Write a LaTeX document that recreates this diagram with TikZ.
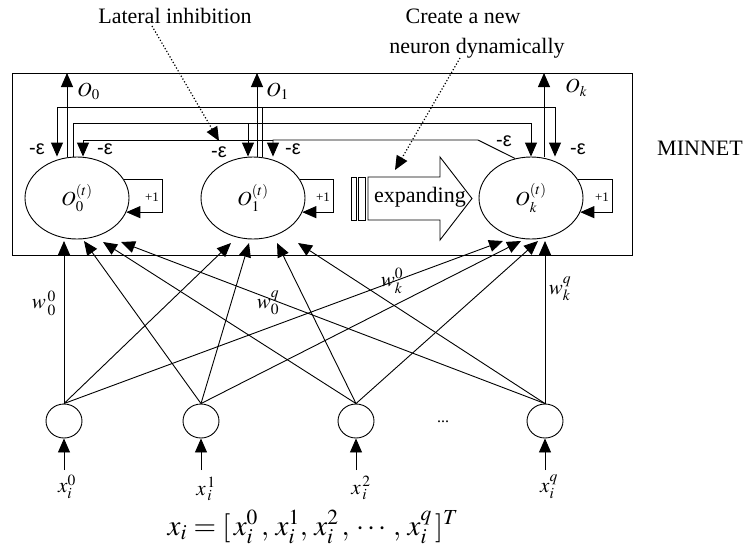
\documentclass[tikz,border=0pt]{standalone}
\usepackage{mathptmx}
\usepackage{fontspec}
\setmainfont{Liberation Serif}
\setsansfont{Liberation Sans}
\usetikzlibrary{shapes.geometric,arrows.meta}
\tikzset{
  arr/.style={-{Triangle[length=14pt,width=12pt]}},
  neuron/.style={draw, ellipse, minimum width=104pt, minimum height=82pt, inner sep=0pt, font=\fontsize{20}{22}\selectfont},
  inp/.style={draw, ellipse, minimum width=36pt, minimum height=34pt, inner sep=0pt},
  txt/.style={font=\fontsize{22}{26}\selectfont, inner sep=0pt},
  eps/.style={font=\sffamily\fontsize{20}{22}\selectfont, inner sep=0pt},
  plusone/.style={font=\fontsize{13}{15}\selectfont, inner sep=0pt},
  mlbl/.style={font=\fontsize{21}{24}\selectfont, inner sep=0pt},
  olbl/.style={font=\fontsize{20}{22}\selectfont, inner sep=0pt, anchor=west},
  pointer/.style={dotted, line width=1.2pt, -{Triangle[length=14pt,width=12pt]}},
}
\begin{document}
\begin{tikzpicture}[x=1pt,y=-1pt,line width=0.9pt]
\useasboundingbox (0,0) rectangle (746,550);
% outer box
\node[draw, minimum width=620pt, minimum height=182pt, inner sep=0pt] (box) at (322,164) {};
\node[txt] (minnet) at (700,148) {MINNET};
% neurons
\node[neuron] (E0) at (77,198) {$O_0^{(t)}$};
\node[neuron] (E1) at (253,198) {$O_1^{(t)}$};
\node[neuron] (E2) at (531,198) {$O_k^{(t)}$};
% outputs
\coordinate (oA0) at (67,73);
\coordinate (oA1) at (257,73);
\coordinate (oA2) at (544,73);
\draw[arr] (E0.north -| oA0) -- (oA0);
\draw[arr] (E1.north -| oA1) -- (oA1);
\draw[arr] (E2.north -| oA2) -- (oA2);
\node[olbl] (lo0) at (77,91) {$O_0$};
\node[olbl] (lo1) at (266,91) {$O_1$};
\node[olbl] (lo2) at (565,88) {$O_k$};
% lateral inhibition line A (from O1)
\coordinate (a0) at (57,107);
\coordinate (a1) at (262,107);
\coordinate (a2) at (555,107);
\draw[arr] (E1.north -| a1) -- (a1) -- (a0) -- (E0.north -| a0);
\draw[arr] (a1) -- (a2) -- (E2.north -| a2);
% line B (from O0)
\coordinate (b0) at (73,123);
\coordinate (b1) at (248,123);
\coordinate (b2) at (531,123);
\draw[arr] (E0.north -| b0) -- (b0) -- (b1) -- (E1.north -| b1);
\draw[arr] (b1) -- (b2) -- (E2.north -| b2);
% line C (from Ok)
\coordinate (c0) at (83,140);
\coordinate (c1) at (273,140);
\coordinate (c2) at (478,140);
\draw[arr] (E2.112) -- (c2) -- (c1) -- (E1.north -| c1);
\draw[arr] (c1) -- (c0) -- (E0.north -| c0);
% epsilon labels
\node[eps] (e0l) at (37,149) {-ε};
\node[eps] (e0r) at (105,149) {-ε};
\node[eps] (e1l) at (219,152) {-ε};
\node[eps] (e1r) at (293,149) {-ε};
\node[eps] (e2l) at (504,141) {-ε};
\node[eps] (e2r) at (578,149) {-ε};
% self loops
\coordinate (r0) at (162,0);
\coordinate (r1) at (333,0);
\coordinate (r2) at (612,0);
\draw[arr] (E0.22) -- (E0.22 -| r0) -- (E0.-16 -| r0) -- (E0.-16);
\draw[arr] (E1.22) -- (E1.22 -| r1) -- (E1.-16 -| r1) -- (E1.-16);
\draw[arr] (E2.22) -- (E2.22 -| r2) -- (E2.-16 -| r2) -- (E2.-16);
\node[plusone] (p0) at (152,197) {+1};
\node[plusone] (p1) at (323,197) {+1};
\node[plusone] (p2) at (602,197) {+1};
% expanding
\draw (351,177) rectangle (356,220);
\draw (358,177) rectangle (365,220);
\draw (368,177) -- (440,177) -- (440,157) -- (472,198.5) -- (440,240) -- (440,220) -- (368,220) -- cycle;
\node[txt] (exp) at (420,197) {expanding};
% annotations
\node[txt] (lat) at (175,16) {Lateral inhibition};
\node[txt] (cre1) at (463,16) {Create a new};
\node[txt] (cre2) at (477,48) {neuron dynamically};
\coordinate (d1s) at (152,26);
\coordinate (d1e) at (219,141);
\coordinate (d2s) at (460,58);
\coordinate (d2e) at (395,170);
\draw[pointer] (d1s) -- (d1e);
\draw[pointer] (d2s) -- (d2e);
% inputs
\node[inp] (I0) at (64,421) {};
\node[inp] (I1) at (201,421) {};
\node[inp] (I2) at (356,421) {};
\node[inp] (I3) at (545,421) {};
\node[font=\fontsize{16}{18}\selectfont, inner sep=0pt] (dots) at (443,422) {...};
% weight arrow tips
\coordinate (t00) at (64,241);
\coordinate (t01) at (84,241);
\coordinate (t02) at (103,242);
\coordinate (t03) at (121,242);
\coordinate (t10) at (231,243);
\coordinate (t11) at (249,243);
\coordinate (t12) at (277,243);
\coordinate (t13) at (298,243);
\coordinate (t20) at (503,241);
\coordinate (t21) at (521,241);
\coordinate (t22) at (538,241);
\coordinate (t23) at (545,241);
\foreach \i in {0,1,2,3}{
  \draw[arr] (I\i.north) -- (t0\i);
  \draw[arr] (I\i.north) -- (t1\i);
  \draw[arr] (I\i.north) -- (t2\i);
}
\node[mlbl] (w00) at (44,303) {$w_{\,0}^{\,0}$};
\node[mlbl] (w0q) at (268,303) {$w_0^q$};
\node[mlbl] (wk0) at (392,281) {$w_k^0$};
\node[mlbl] (wkq) at (560,289) {$w_k^q$};
% input arrows
\coordinate (s0) at (64,470);
\coordinate (s1) at (201,470);
\coordinate (s2) at (356,470);
\coordinate (s3) at (545,470);
\draw[arr] (s0) -- (I0.south);
\draw[arr] (s1) -- (I1.south);
\draw[arr] (s2) -- (I2.south);
\draw[arr] (s3) -- (I3.south);
\node[mlbl] (x0) at (67,487) {$x_i^0$};
\node[mlbl] (x1) at (206,489) {$x_{\,i}^{\,1}$};
\node[mlbl] (x2) at (361,488) {$x_{\,i}^{\,2}$};
\node[mlbl] (x3) at (549,487) {$x_i^q$};
\node[font=\fontsize{29}{32}\selectfont, inner sep=0pt] (formula) at (313,527) {$x_i = [\,x_i^0\,,\, x_i^1,\, x_i^2\,,\, \cdots\, ,\, x_i^q\,]^T$};
\end{tikzpicture}
\end{document}
